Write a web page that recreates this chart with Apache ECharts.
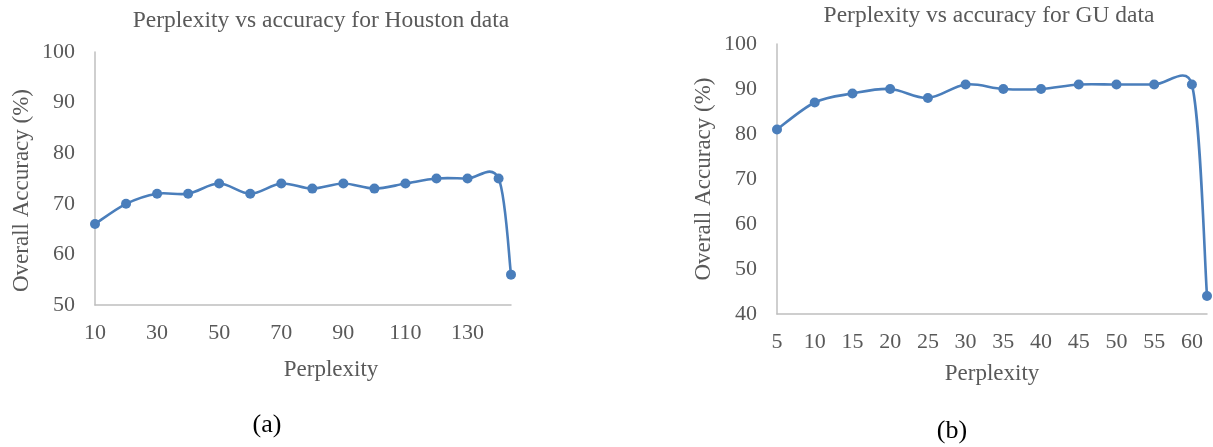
<!DOCTYPE html>
<html>
<head>
<meta charset="utf-8">
<script src="https://cdn.jsdelivr.net/npm/echarts@6/dist/echarts.min.js"></script>
<style>
html,body{margin:0;padding:0;background:#fff;}
#chart{width:1213px;height:447px;}
</style>
</head>
<body>
<div id="chart"></div>
<script>
// Houston data (a)
const houstonPerplexity = [10, 20, 30, 40, 50, 60, 70, 80, 90, 100, 110, 120, 130, 140, 144];
const houstonAccuracy   = [66, 70, 72, 72, 74, 72, 74, 73, 74, 73, 74, 75, 75, 75, 56];
// GU data (b)
const guPerplexity = [5, 10, 15, 20, 25, 30, 35, 40, 45, 50, 55, 60, 62];
const guAccuracy   = [81, 87, 89, 90, 88, 91, 90, 90, 91, 91, 91, 91, 44];

const titleA = 'Perplexity vs accuracy for Houston data';
const titleB = 'Perplexity vs accuracy for GU data';
const xName = 'Perplexity';
const yName = 'Overall Accuracy (%)';

const FONT = "'Liberation Serif', 'Times New Roman', serif";
const GRAY = '#595959';
const LINE = '#4a7ebb';
const AXIS = '#bfbfbf';

function pairs(xs, ys) { return xs.map((x, i) => [x, ys[i]]); }

// Excel-like smoothed curve (Catmull-Rom style Bezier) through pixel points from the axes
function smoothPath(pts) {
  const n = pts.length;
  const tan = pts.map((p, i) => {
    const a = pts[Math.max(0, i - 1)], b = pts[Math.min(n - 1, i + 1)];
    return [(b[0] - a[0]) / 6, (b[1] - a[1]) / 6];
  });
  const clampLen = (v, maxLen) => {
    const l = Math.hypot(v[0], v[1]);
    if (l > maxLen && l > 0) { const s = maxLen / l; return [v[0] * s, v[1] * s]; }
    return v;
  };
  let d = 'M' + pts[0][0] + ' ' + pts[0][1];
  for (let i = 0; i < n - 1; i++) {
    const p0 = pts[i], p1 = pts[i + 1];
    const seg = Math.hypot(p1[0] - p0[0], p1[1] - p0[1]);
    const t0 = clampLen(tan[i], 0.55 * seg), t1 = clampLen(tan[i + 1], 0.55 * seg);
    const c1 = [p0[0] + t0[0], p0[1] + t0[1]];
    const c2 = [p1[0] - t1[0], p1[1] - t1[1]];
    d += ' C' + c1[0] + ' ' + c1[1] + ' ' + c2[0] + ' ' + c2[1] + ' ' + p1[0] + ' ' + p1[1];
  }
  return d;
}

function curveSeries(idx, xs, ys) {
  return {
    type: 'custom', coordinateSystem: 'cartesian2d', xAxisIndex: idx, yAxisIndex: idx,
    data: [[xs[0], ys[0]]], silent: true, z: 2,
    renderItem: function (params, api) {
      const pts = xs.map((x, i) => api.coord([x, ys[i]]));
      return { type: 'path', shape: { pathData: smoothPath(pts) },
               style: { stroke: LINE, lineWidth: 2.6, fill: null } };
    }
  };
}
function markerSeries(idx, xs, ys) {
  return { type: 'scatter', xAxisIndex: idx, yAxisIndex: idx, data: pairs(xs, ys),
           symbol: 'circle', symbolSize: 10, itemStyle: { color: LINE, opacity: 1 }, z: 3 };
}

function xAxis(idx, min, max, interval, fmt, gap, pad) {
  return {
    type: 'value', gridIndex: idx, min: min, max: max, interval: interval,
    name: xName, nameLocation: 'middle', nameGap: gap,
    nameTextStyle: { color: GRAY, fontFamily: FONT, fontSize: 23, padding: pad },
    axisLine: { show: true, lineStyle: { color: AXIS, width: 1.5 } },
    axisTick: { show: false }, splitLine: { show: false },
    axisLabel: { color: GRAY, fontFamily: FONT, fontSize: 22, margin: 17, formatter: fmt,
                 showMaxLabel: false }
  };
}
function yAxis(idx, min, max, gap, pad) {
  return {
    type: 'value', gridIndex: idx, min: min, max: max, interval: 10,
    name: yName, nameLocation: 'middle', nameGap: gap, nameRotate: 90,
    nameTextStyle: { color: GRAY, fontFamily: FONT, fontSize: 23, padding: pad },
    axisLine: { show: true, lineStyle: { color: AXIS, width: 1.5 } },
    axisTick: { show: false }, splitLine: { show: false },
    axisLabel: { color: GRAY, fontFamily: FONT, fontSize: 22, margin: 20 }
  };
}

const chart = echarts.init(document.getElementById('chart'), null, { renderer: 'canvas' });
chart.setOption({
  backgroundColor: '#fff',
  animation: false,
  graphic: [
    { type: 'text', x: 321, y: 21, style: { text: titleA, fill: GRAY, font: '23.5px ' + FONT, align: 'center', verticalAlign: 'middle' } },
    { type: 'text', x: 989, y: 16, style: { text: titleB, fill: GRAY, font: '23.5px ' + FONT, align: 'center', verticalAlign: 'middle' } },
    { type: 'text', x: 267, y: 425, style: { text: '(a)', fill: '#000', font: '26px ' + FONT, align: 'center', verticalAlign: 'middle' } },
    { type: 'text', x: 952, y: 431, style: { text: '(b)', fill: '#000', font: '26px ' + FONT, align: 'center', verticalAlign: 'middle' } }
  ],
  grid: [
    { left: 95, top: 52, width: 416, height: 253, containLabel: false },
    { left: 777, top: 44, width: 430, height: 270, containLabel: false }
  ],
  xAxis: [
    xAxis(0, 10, 144, 10, v => (v % 20 === 10 && v <= 130) ? String(v) : '', 53, [0, 0, 0, 56]),
    xAxis(1, 5, 62, 5, v => (v % 5 === 0 && v <= 60) ? String(v) : '', 48, 0)
  ],
  yAxis: [
    yAxis(0, 50, 100, 62, [0, 24, 0, 0]),
    yAxis(1, 40, 100, 62, 0)
  ],
  series: [
    curveSeries(0, houstonPerplexity, houstonAccuracy),
    markerSeries(0, houstonPerplexity, houstonAccuracy),
    curveSeries(1, guPerplexity, guAccuracy),
    markerSeries(1, guPerplexity, guAccuracy)
  ]
});
</script>
</body>
</html>
